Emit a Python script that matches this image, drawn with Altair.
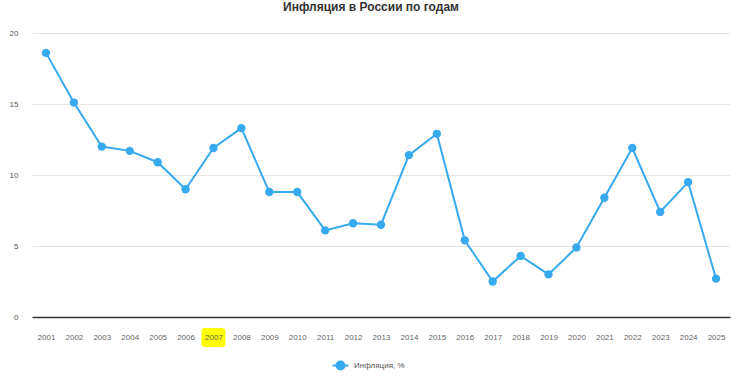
import altair as alt
import pandas as pd

years = [str(y) for y in range(2001, 2026)]
inflation = [18.6, 15.1, 12.0, 11.7, 10.9, 9.0, 11.9, 13.3, 8.8, 8.8, 6.1, 6.6, 6.5,
             11.4, 12.9, 5.4, 2.5, 4.3, 3.0, 4.9, 8.4, 11.9, 7.4, 9.5, 2.7]
series_name = "Инфляция, %"
highlight_year = ["2007"]

df = pd.DataFrame({"year": years, "value": inflation, "series": series_name})
hl = pd.DataFrame({"year": highlight_year})

BLUE = "#36a9ef"
xscale = alt.Scale(type="point", padding=0.5, domain=years)
xaxis = alt.Axis(title=None, labelAngle=0, labelAlign="center", ticks=False, domain=True,
                 domainColor="#333333", domainWidth=1.5, labelColor="#666666",
                 labelFontSize=8, labelPadding=16, zindex=1, grid=False)

highlight = alt.Chart(hl).mark_bar(width=24, color="#ffff00", cornerRadius=3, clip=False).encode(
    x=alt.X("year:O", scale=xscale, axis=xaxis),
    y=alt.value(295), y2=alt.value(314)
)

color_enc = alt.Color("series:N", scale=alt.Scale(range=[BLUE]),
                      legend=alt.Legend(title=None, orient="none", legendX=301, legendY=325,
                                        symbolType="M-1.3,0 L1.3,0 M0.65,0 A0.65,0.65 0 1,1 -0.65,0 A0.65,0.65 0 1,1 0.65,0",
                                        symbolSize=150, symbolStrokeWidth=2,
                                        symbolFillColor=BLUE, symbolStrokeColor=BLUE,
                                        labelFontSize=8, labelColor="#555555", labelOffset=6))

line = alt.Chart(df).mark_line(strokeWidth=2).encode(
    x=alt.X("year:O", scale=xscale, axis=xaxis),
    y=alt.Y("value:Q", scale=alt.Scale(domain=[0, 20]),
            axis=alt.Axis(title=None, values=[0, 5, 10, 15, 20], ticks=False, domain=False,
                          labelColor="#555555", labelFontSize=8, labelPadding=14,
                          gridColor="#e6e6e6", zindex=0)),
    color=color_enc
)
points = alt.Chart(df).mark_circle(size=70, opacity=1).encode(
    x=alt.X("year:O", scale=xscale, axis=xaxis),
    y="value:Q",
    color=alt.Color("series:N", scale=alt.Scale(range=[BLUE]), legend=None)
)

chart = alt.layer(highlight, line, points).properties(
    width=698, height=284,
    title=alt.TitleParams("Инфляция в России по годам", fontSize=12, fontWeight="bold",
                          color="#333333", anchor="middle", dx=-10, offset=15,
                          font="Liberation Sans"),
    autosize=alt.AutoSizeParams(type="none"),
    padding={"left": 32, "top": 33, "right": 17, "bottom": 65}
).configure(font="Liberation Sans").configure_view(stroke=None).configure_legend(
    labelFont="Liberation Sans")

chart.save("out.html", embed_options={"renderer": "svg", "actions": False})
